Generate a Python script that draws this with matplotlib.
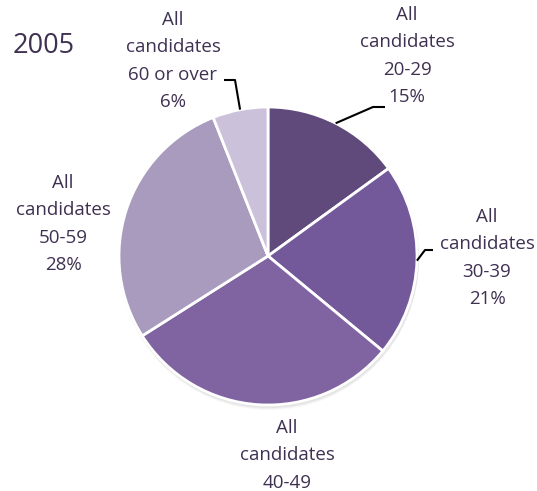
import numpy as np
import matplotlib
matplotlib.use("Agg")
import matplotlib.pyplot as plt
from matplotlib.patches import Circle

# data
groups = ["20-29", "30-39", "40-49", "50-59", "60 or over"]
shares = [15, 21, 30, 28, 6]
colors = ["#604a7b", "#73599a", "#8064a2", "#a99bbd", "#ccc1da"]
year = "2005"

W, H = 537, 491
txt_color = "#3f3151"

fig = plt.figure(figsize=(W / 100, H / 100), dpi=100)
ax = fig.add_axes([0, 0, 1, 1])

cx, cy, r = 268, H - 256, 149

# soft shadow under the pie
for k, a in [(4, 0.05), (3, 0.07), (2, 0.09)]:
    ax.add_patch(Circle((cx + 1, cy - k), r + 1, color="#7f7f7f", alpha=a, lw=0, zorder=0))

wedges, _ = ax.pie(shares, colors=colors, startangle=90, counterclock=False,
                   center=(cx, cy), radius=r,
                   wedgeprops=dict(edgecolor="white", linewidth=2))
for w in wedges:
    w.set_zorder(2)

# label centres (pixels, from top) and leader elbows
label_pos = [(407, 56), (487, 258), (287, 469), (63, 224), (173, 61)]
leaders = {0: [(385, 107), (373, 107)], 1: [(433, 250), (425, 250)], 4: [(224, 80), (235, 80)]}

for i, (g, s) in enumerate(zip(groups, shares)):
    x, y = label_pos[i]
    ax.text(x, H - y, f"All\ncandidates\n{g}\n{s}%", ha="center", va="center",
            fontsize=13.5, color=txt_color, linespacing=1.65, family="Open Sans")
    if i in leaders:
        # edge point at the middle of the wedge
        start = 90 - (sum(shares[:i]) + s / 2) * 3.6
        ex = cx + r * np.cos(np.radians(start))
        ey = cy + r * np.sin(np.radians(start))
        pts = leaders[i]
        xs = [p[0] for p in pts] + [ex]
        ys = [H - p[1] for p in pts] + [ey]
        ax.plot(xs, ys, color="black", lw=1.5, zorder=3, solid_capstyle="butt")

ax.text(13, H - 46, year, ha="left", va="center", fontsize=19.5, color=txt_color, family="Open Sans")

ax.set_xlim(0, W)
ax.set_ylim(0, H)
ax.set_aspect("equal")
ax.axis("off")

fig.savefig("out.png", dpi=100)
